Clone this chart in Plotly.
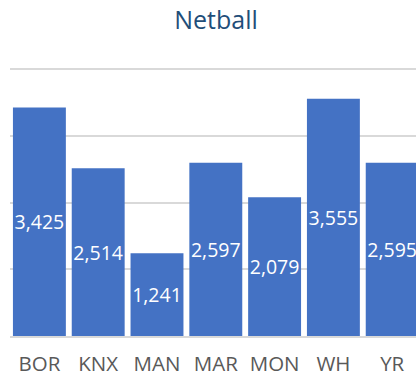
import plotly.graph_objects as go

# Netball participation by club
clubs = ["BOR", "KNX", "MAN", "MAR", "MON", "WH", "YR"]
players = [3425, 2514, 1241, 2597, 2079, 3555, 2595]

BAR_BLUE = "#4472C4"
GRID_GREY = "#D9D9D9"
TITLE_BLUE = "#1F4E79"
LABEL_GREY = "#595959"
FONT = "Open Sans"

fig = go.Figure(
    go.Bar(
        x=clubs,
        y=players,
        marker=dict(color=BAR_BLUE, line=dict(width=0)),
        text=players,
        texttemplate="%{y:,}",
        textposition="inside",
        insidetextanchor="middle",
        textangle=0,
        constraintext="none",
        textfont=dict(family=FONT, size=19.5, color="white"),
        hoverinfo="skip",
    )
)

fig.update_layout(
    width=416,
    height=378,
    margin=dict(l=10, r=0, t=66, b=42),
    paper_bgcolor="white",
    plot_bgcolor="white",
    bargap=0.1,
    showlegend=False,
    title=dict(
        text="Netball",
        font=dict(family=FONT, size=25, color=TITLE_BLUE),
        xref="container",
        x=216 / 416,
        xanchor="center",
        yref="container",
        y=1 - 20 / 378,
        yanchor="middle",
    ),
    font=dict(family=FONT),
)

fig.update_xaxes(
    range=[-0.5, -0.5 + 406 / 58.8],
    showgrid=False,
    showline=True,
    linecolor=GRID_GREY,
    linewidth=1.5,
    ticks="",
    tickfont=dict(family=FONT, size=20.5, color=LABEL_GREY),
    ticklabelstandoff=9,
)

# Headroom above 4,000 keeps that gridline clear of the plot edge
fig.update_yaxes(
    range=[0, 4045],
    dtick=1000,
    showgrid=True,
    gridcolor=GRID_GREY,
    gridwidth=1.5,
    zeroline=False,
    showticklabels=False,
    ticks="",
)

fig.write_html("out.html")
